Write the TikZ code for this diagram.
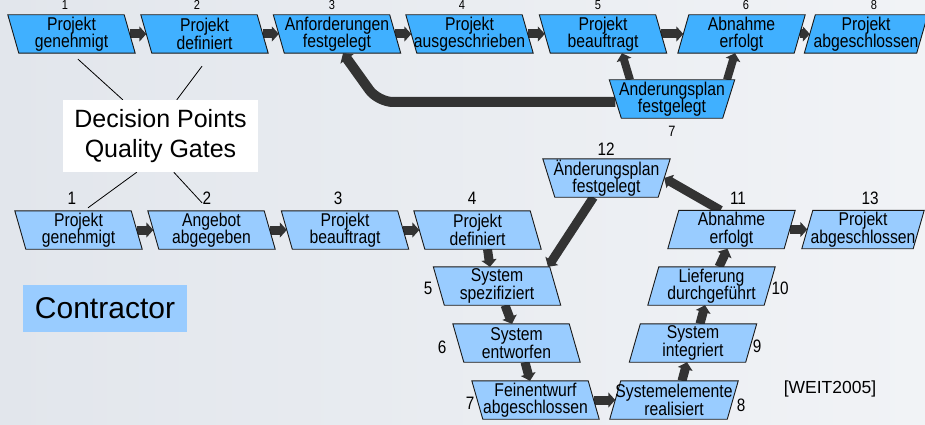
\documentclass[tikz,border=0pt]{standalone}
\usepackage{fontspec}
\setmainfont{Liberation Sans}
\newfontfamily\condfont{Liberation Sans}[FakeStretch=0.85]
\usetikzlibrary{arrows.meta,calc}

\pgfdeclarelayer{back}
\pgfdeclarelayer{links}
\pgfdeclarelayer{boxes}
\pgfsetlayers{back,links,boxes,main}

\definecolor{topblue}{HTML}{40B0FF}
\definecolor{lowblue}{HTML}{99CCFF}
\definecolor{linkgray}{HTML}{333333}
\definecolor{bgleft}{HTML}{E2E6EC}
\definecolor{bgright}{HTML}{F1F3F6}

\tikzset{
  milestone/.style={inner sep=0pt, minimum width=116pt, minimum height=38pt,
    align=center, font=\condfont\fontsize{18.5}{17.5}\selectfont},
  % outline drawn on the "boxes" layer, corners shifted horizontally
  boxshape/.style n args={5}{milestone, append after command={\pgfextra{%
      \begin{pgfonlayer}{boxes}
      \draw[draw=black!90, line width=0.9pt, fill=#5]
        ($(\tikzlastnode.north west)+(#1,0)$) -- ($(\tikzlastnode.north east)+(#2,0)$)
        -- ($(\tikzlastnode.south east)+(#3,0)$) -- ($(\tikzlastnode.south west)+(#4,0)$) -- cycle;
      \end{pgfonlayer}}}},
  backslant/.style={boxshape={-5.5}{-5.5}{5.5}{5.5}{#1}},
  fwdslant/.style={boxshape={5.5}{5.5}{-5.5}{-5.5}{#1}},
  funnel/.style={boxshape={-6}{6}{-6}{6}{#1}, minimum width=113pt},
  toplabel/.style={inner sep=0pt, font=\condfont\fontsize{13}{13}\selectfont},
  numlabel/.style={inner sep=0pt, font=\condfont\fontsize{18}{18}\selectfont},
  flow/.style={draw=linkgray, line width=9pt, -{Triangle[width=15pt,length=7pt]}},
  loopflow/.style={draw=linkgray, line width=10pt, rounded corners=15pt,
    -{Triangle[width=16pt,length=7pt]}},
  gateline/.style={draw=black, line width=0.8pt},
}

\begin{document}
\begin{tikzpicture}[x=1pt, y=-1pt]
\useasboundingbox (0,0) rectangle (925,425);
\begin{pgfonlayer}{back}
  \shade[left color=bgleft, right color=bgright] (0,0) rectangle (925,425);
\end{pgfonlayer}

% ---- upper process
\node[backslant=topblue] (t1) at (71.5,34) {Projekt\\genehmigt};
\node[backslant=topblue] (t2) at (204.5,34) {Projekt\\definiert};
\node[backslant=topblue] (t3) at (337,34) {Anforderungen\\festgelegt};
\node[backslant=topblue] (t4) at (469.5,34) {Projekt\\ausgeschrieben};
\node[backslant=topblue] (t5) at (603,34) {Projekt\\beauftragt};
\node[fwdslant=topblue] (t6) at (741.5,34) {Abnahme\\erfolgt};
\node[fwdslant=topblue, minimum width=112pt] (t8) at (866,34) {Projekt\\abgeschlossen};
\node[funnel=topblue] (t7) at (672,99) {Anderungsplan\\festgelegt};

\node[toplabel] (nt1) at (65,5) {1};
\node[toplabel] (nt2) at (197,5) {2};
\node[toplabel] (nt3) at (332,5) {3};
\node[toplabel] (nt4) at (462,5) {4};
\node[toplabel] (nt5) at (598,5) {5};
\node[toplabel] (nt6) at (746,5) {6};
\node[toplabel] (nt8) at (874,5) {8};
\node[toplabel, font=\condfont\fontsize{15}{15}\selectfont] (nt7) at (672,131) {7};

% ---- gate box
\node[fill=white, minimum width=195pt, minimum height=72pt, inner sep=0pt,
  align=center, font=\fontsize{25}{30}\selectfont] (dec) at (160.5,136)
  {Decision Points\\Quality Gates};

% ---- lower process
\node[backslant=lowblue] (b1) at (78.5,230) {Projekt\\genehmigt};
\node[backslant=lowblue] (b2) at (211.5,230) {Angebot\\abgegeben};
\node[backslant=lowblue] (b3) at (345,230) {Projekt\\beauftragt};
\node[backslant=lowblue] (b4) at (477.5,230) {Projekt\\definiert};

\node[numlabel] (nb1) at (72,198) {1};
\node[numlabel] (nb2) at (207,198) {2};
\node[numlabel] (nb3) at (338,198) {3};
\node[numlabel] (nb4) at (472,198) {4};

\node[backslant=lowblue] (s5) at (497,286) {System\\spezifiziert};
\node[backslant=lowblue] (s6) at (516.5,343) {System\\entworfen};
\node[backslant=lowblue] (s7) at (535.5,400) {Feinentwurf\\abgeschlossen};
\node[fwdslant=lowblue] (s8) at (674,400) {Systemelemente\\realisiert};
\node[fwdslant=lowblue] (s9) at (693,343) {System\\integriert};
\node[fwdslant=lowblue] (s10) at (711.5,286) {Lieferung\\durchgeführt};
\node[fwdslant=lowblue] (s11) at (731.5,229.5) {Abnahme\\erfolgt};
\node[fwdslant=lowblue, minimum width=111pt] (s13) at (863,229.5) {Projekt\\abgeschlossen};
\node[funnel=lowblue, minimum width=115pt] (s12) at (606.5,178) {Änderungsplan\\festgelegt};

\node[numlabel] (ns5) at (428,288) {5};
\node[numlabel] (ns6) at (442,347) {6};
\node[numlabel] (ns7) at (470,403) {7};
\node[numlabel] (ns8) at (741,405) {8};
\node[numlabel] (ns9) at (757,346) {9};
\node[numlabel] (ns10) at (780,288) {10};
\node[numlabel] (ns11) at (738,198) {11};
\node[numlabel] (ns13) at (870,198) {13};
\node[numlabel] (ns12) at (606,149) {12};

\node[fill=lowblue, minimum width=164pt, minimum height=47pt, inner sep=0pt,
  font=\fontsize{30}{36}\selectfont] (role) at (105,308.5) {Contractor};
\node[inner sep=0pt, font=\fontsize{17.5}{20}\selectfont] (src) at (830,389) {[WEIT2005]};

\coordinate (loopcorner) at (378,102);

% ---- connectors, beneath the boxes
\begin{pgfonlayer}{links}
  \draw[flow] (t1.east) -- (t2.west);
  \draw[flow] (t2.east) -- (t3.west);
  \draw[flow] (t3.east) -- (t4.west);
  \draw[flow] (t4.east) -- (t5.west);
  \draw[flow] (t5.east) -- (t6.west);
  \draw[flow] (t6.east) -- (t8.west);
  \draw[flow, line width=8pt] ($(t7.north)+(-42,0)$) -- ($(t5.south)+(19,0)$);
  \draw[flow, line width=8pt] ($(t7.north)+(55,0)$) -- ($(t6.south)+(-6.5,0)$);
  \draw[loopflow] ($(t7.west)+(0,3)$) -- (loopcorner) -- ($(t3.south)+(6,0)$);

  \draw[gateline] ($(t1.south)+(6.5,6)$) -- ($(dec.north west)+(60,0)$);
  \draw[gateline] ($(t2.south)+(-2.5,13)$) -- ($(dec.north west)+(114,0)$);
  \draw[gateline] ($(dec.south west)+(74,0)$) -- ($(b1.north)+(9.5,-3)$);
  \draw[gateline] ($(dec.south west)+(111,0)$) -- ($(b2.north)+(-9.5,-8)$);

  \draw[flow] (b1.east) -- (b2.west);
  \draw[flow] (b2.east) -- (b3.west);
  \draw[flow] (b3.east) -- (b4.west);
  \draw[flow] ($(b4.south)+(10,0)$) -- ($(s5.north)+(-7,0)$);
  \draw[flow] ($(s12.south)+(-13,0)$) -- ($(s5.north)+(51,0)$);
  \draw[flow] ($(s11.north)+(-11,0)$) -- (s12.east);
  \draw[flow] (s11.east) -- (s13.west);
  \draw[flow] ($(s10.north)+(7.5,0)$) -- ($(s11.south)+(-4,0)$);
  \draw[flow] ($(s5.south)+(8,0)$) -- ($(s6.north)+(-4.5,0)$);
  \draw[flow] ($(s6.south)+(8.5,0)$) -- ($(s7.north)+(-5.5,0)$);
  \draw[flow] (s7.east) -- (s8.west);
  \draw[flow] ($(s8.north)+(8,0)$) -- ($(s9.south)+(-6,0)$);
  \draw[flow] ($(s9.north)+(7,0)$) -- ($(s10.south)+(-6.5,0)$);
\end{pgfonlayer}
\end{tikzpicture}
\end{document}
